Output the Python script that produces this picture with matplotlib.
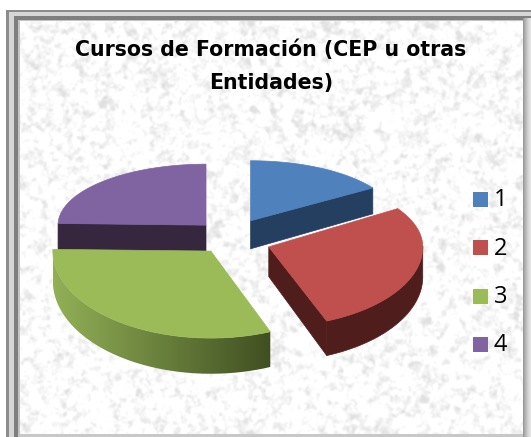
import numpy as np
import matplotlib
matplotlib.use("Agg")
import matplotlib.pyplot as plt
from matplotlib.patches import Rectangle, Polygon

title = "Cursos de Formación (CEP u otras\nEntidades)"
labels = ["1", "2", "3", "4"]
values = [9, 16, 18, 14]

top_colors = ["#4f81bd", "#c0504d", "#9bbb59", "#8064a2"]
side_colors = ["#253f60", "#4f1e1c", "#7a9446", "#36273f"]

# pie layout, in pixels (the pie is tilted so front and back differ)
center = (232.5, 244.5)
explode_x = 38
explode_up = 27
explode_down = 8
rx = [146, 154, 158, 148]
ry_up = [60, 70, 62, 61]
ry_down = [80, 80, 87, 80]


def depth(y):
    return 28 + (y - 220) * 0.065


def noise_texture(h, w):
    yy, xx = np.mgrid[0:h, 0:w]
    n = np.sin(xx * 12.9898 + yy * 78.233) * 43758.5453
    n = n - np.floor(n)
    fy = np.fft.fftfreq(h)[:, None]
    fx = np.fft.fftfreq(w)[None, :]
    out = np.zeros((h, w))
    for sig, weight in [(1.2, 1.0), (3.0, 0.9)]:
        g = np.exp(-2 * (np.pi * sig) ** 2 * (fx ** 2 + fy ** 2))
        b = np.real(np.fft.ifft2(np.fft.fft2(n) * g))
        out += weight * (b - b.mean()) / b.std()
    out = out / out.std()
    return 1 - np.clip(out + 0.2, 0, 3) * 0.04


def project(theta, i, apex):
    x = apex[0] + rx[i] * np.sin(theta)
    c = np.cos(theta)
    y = apex[1] - np.where(c > 0, ry_up[i], ry_down[i]) * c
    return x, y


fig = plt.figure(figsize=(5.31, 4.37), dpi=100)
ax = fig.add_axes([0, 0, 1, 1])
ax.axis("off")

# picture frame
ax.add_patch(Rectangle((6, 10), 525, 427, fc="#8c8c8c", ec="none"))
ax.add_patch(Rectangle((9, 12), 522, 425, fc="#d6d6d6", ec="none"))
ax.add_patch(Rectangle((14, 16), 517, 421, fc="#7f7f7f", ec="none"))
ax.add_patch(Rectangle((18, 20), 513, 417, fc="#c4c4c4", ec="none"))
ax.imshow(noise_texture(413, 503)[..., None].repeat(3, axis=2),
          extent=(20, 523, 434, 21), interpolation="bilinear", aspect="auto", zorder=1)
for k, col in enumerate(["#9a9a9a", "#a8a8a8", "#b4b4b4", "#c0c0c0", "#cccccc", "#d6d6d6", "#dedede", "#e4e4e4"]):
    ax.add_patch(Rectangle((523 + k, 18), 1, 419, fc=col, ec="none", zorder=2))
ax.add_patch(Rectangle((20, 434), 503, 3, fc="#c8c8c8", ec="none", zorder=2))

# slice angles, clockwise from 12 o'clock
edges = np.radians(np.cumsum([0] + values) / sum(values) * 360)
apexes = []
for i in range(len(values)):
    mid = (edges[i] + edges[i + 1]) / 2
    up = np.cos(mid)
    dy = -explode_up * up if up > 0 else -explode_down * up
    apexes.append((center[0] + explode_x * np.sin(mid), center[1] + dy))

# back slices first, the front ones overlap them
order = [3, 0, 2, 1]
for i in order:
    apex = apexes[i]
    th = np.linspace(edges[i], edges[i + 1], 160)
    x, y = project(th, i, apex)
    z = 5 + order.index(i)

    # flat cut side that faces the viewer
    if i != 2:
        ex, ey = (x[0], y[0]) if i == 3 else (x[-1], y[-1])
        ax.fill([apex[0], ex, ex, apex[0]],
                [apex[1], ey, ey + depth(ey), apex[1] + depth(apex[1])],
                fc=side_colors[i], ec=side_colors[i], lw=0.5, zorder=z)

    # outer wall, only the part that faces the viewer
    if i in (1, 2):
        keep = np.cos(th) <= 0.02
        wx, wy = x[keep], y[keep]
        pts = np.c_[np.r_[wx, wx[::-1]], np.r_[wy, (wy + depth(wy))[::-1]]]
        if i == 2:
            c0 = np.array([0x92, 0xb0, 0x56]) / 255
            c1 = np.array([0x40, 0x4f, 0x22]) / 255
            t = np.linspace(0, 1, 256)[None, :, None]
            grad = c0[None, None, :] + (c1 - c0)[None, None, :] * t
            im = ax.imshow(grad, extent=(wx.min(), wx.max(), pts[:, 1].max(), pts[:, 1].min()),
                           aspect="auto", zorder=z, interpolation="bilinear")
            im.set_clip_path(Polygon(pts, transform=ax.transData))
        else:
            ax.fill(pts[:, 0], pts[:, 1], fc=side_colors[i], ec=side_colors[i], lw=0.5, zorder=z)

    # top face
    ax.fill(np.r_[apex[0], x], np.r_[apex[1], y], fc=top_colors[i],
            ec=top_colors[i], lw=0.5, zorder=z + 0.5)

ax.text(271, 66, title, ha="center", va="center", fontsize=14.8, fontweight="bold",
        family="DejaVu Sans", color="black", linespacing=1.8, zorder=20)

# legend
for i, lab in enumerate(labels):
    y0 = 192 + 48.3 * i
    ax.add_patch(Rectangle((473, y0), 15, 15, fc=top_colors[i], ec="none", zorder=20))
    ax.text(494, y0 + 8.5, lab, ha="left", va="center", fontsize=17,
            family="Open Sans", color="black", zorder=20)

ax.set_xlim(0, 531)
ax.set_ylim(437, 0)
fig.savefig("out.png", dpi=100)
